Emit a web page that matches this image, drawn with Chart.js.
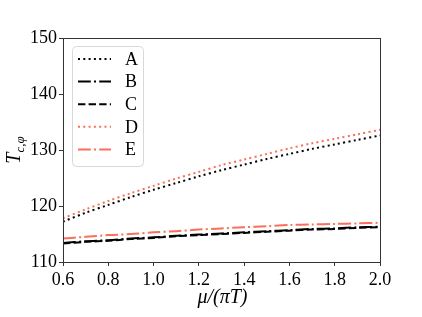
<!DOCTYPE html>
<html>
<head>
<meta charset="utf-8">
<script src="https://cdn.jsdelivr.net/npm/chart.js@4/dist/chart.umd.min.js"></script>
<style>
  html, body { margin: 0; padding: 0; background: #fff; }
  #wrap { width: 422px; height: 317px; }
</style>
</head>
<body>
<div id="wrap"><canvas id="chart" width="422" height="317"></canvas></div>
<script>
// values
const muOverPiT = [0.6, 0.7, 0.8, 0.9, 1.0, 1.1, 1.2, 1.3, 1.4, 1.5, 1.6, 1.7, 1.8, 1.9, 2.0];
const seriesA = [117.2, 118.8, 120.2, 121.6, 122.9, 124.1, 125.3, 126.4, 127.4, 128.4, 129.3, 130.2, 131.0, 131.8, 132.6];
const seriesB = [113.4, 113.7, 113.9, 114.2, 114.4, 114.7, 114.9, 115.1, 115.3, 115.5, 115.7, 115.9, 116.0, 116.2, 116.3];
const seriesC = [113.3, 113.6, 113.8, 114.1, 114.3, 114.6, 114.8, 115.0, 115.2, 115.4, 115.6, 115.8, 115.9, 116.1, 116.2];
const seriesD = [117.8, 119.4, 120.9, 122.3, 123.6, 124.9, 126.1, 127.3, 128.3, 129.3, 130.3, 131.2, 132.0, 132.8, 133.6];
const seriesE = [114.2, 114.5, 114.8, 115.0, 115.3, 115.5, 115.8, 116.0, 116.2, 116.4, 116.6, 116.7, 116.8, 116.9, 117.0];
const seriesNames = ['A', 'B', 'C', 'D', 'E'];
const xTicks = [0.6, 0.8, 1.0, 1.2, 1.4, 1.6, 1.8, 2.0];
const yTicks = [110, 120, 130, 140, 150];

const salmon = '#fa6e5c';
const serif = '"Liberation Serif", "DejaVu Serif", serif';

const dotted = [2, 3.3];
const dashed = [7.4, 3.2];
const dashdot = [12.8, 3.2, 2, 3.2];

function pts(ys) {
  return muOverPiT.map((x, i) => ({ x: x, y: ys[i] }));
}

const styles = [
  { color: '#000', dash: dotted },
  { color: '#000', dash: dashdot },
  { color: '#000', dash: dashed },
  { color: salmon, dash: dotted },
  { color: salmon, dash: dashdot }
];
const allSeries = [seriesA, seriesB, seriesC, seriesD, seriesE];

const datasets = allSeries.map((ys, i) => ({
  label: seriesNames[i],
  data: pts(ys),
  borderColor: styles[i].color,
  borderDash: styles[i].dash,
  borderWidth: 2,
  pointRadius: 0,
  fill: false,
  tension: 0.3
}));

// frame, axis titles and legend inside the plot
const decorations = {
  id: 'decorations',
  afterDraw(chart) {
    const ctx = chart.ctx;
    const a = chart.chartArea;
    ctx.save();
    ctx.strokeStyle = '#333';
    ctx.lineWidth = 1;
    ctx.strokeRect(a.left + 0.5, a.top + 0.5, a.right - a.left, a.bottom - a.top);

    // x title
    ctx.fillStyle = '#000';
    ctx.font = 'italic 20px ' + serif;
    ctx.textAlign = 'center';
    ctx.textBaseline = 'alphabetic';
    ctx.fillText('\u03bc/(\u03c0T)', (a.left + a.right) / 2 + 1, 303);

    // y title T_{c,phi}
    ctx.save();
    ctx.translate(20, (a.top + a.bottom) / 2);
    ctx.rotate(-Math.PI / 2);
    ctx.textAlign = 'left';
    ctx.font = 'italic 20px ' + serif;
    const wT = ctx.measureText('T').width;
    ctx.font = 'italic 13px ' + serif;
    const wS = ctx.measureText('c,\u03c6').width;
    const x0 = -(wT + wS) / 2;
    ctx.font = 'italic 20px ' + serif;
    ctx.fillText('T', x0, 0);
    ctx.font = 'italic 13px ' + serif;
    ctx.fillText('c,\u03c6', x0 + wT, 4);
    ctx.restore();

    // legend box
    const lx = 72, ly = 46, lw = 71, lh = 120;
    ctx.strokeStyle = '#d8d8d8';
    ctx.fillStyle = 'rgba(255,255,255,0.8)';
    ctx.lineWidth = 1;
    ctx.beginPath();
    ctx.roundRect(lx + 0.5, ly + 0.5, lw, lh, 4);
    ctx.fill();
    ctx.stroke();
    ctx.font = '18px ' + serif;
    ctx.textAlign = 'left';
    ctx.textBaseline = 'middle';
    seriesNames.forEach((name, i) => {
      const y = 59 + i * 22.6;
      ctx.strokeStyle = styles[i].color;
      ctx.lineWidth = 2;
      ctx.setLineDash(styles[i].dash);
      ctx.beginPath();
      ctx.moveTo(78, y);
      ctx.lineTo(111, y);
      ctx.stroke();
      ctx.setLineDash([]);
      ctx.fillStyle = '#000';
      ctx.fillText(name, 125, y + 1);
    });
    ctx.restore();
  }
};

new Chart(document.getElementById('chart').getContext('2d'), {
  type: 'line',
  data: { datasets: datasets },
  plugins: [decorations],
  options: {
    responsive: false,
    animation: false,
    layout: { padding: { left: 0, top: 38, right: 42, bottom: 0 } },
    plugins: { legend: { display: false }, tooltip: { enabled: false } },
    scales: {
      x: {
        type: 'linear',
        min: 0.6,
        max: 2.0,
        afterBuildTicks: (scale) => { scale.ticks = xTicks.map(v => ({ value: v })); },
        afterFit: (scale) => { scale.height = 55; },
        grid: { drawOnChartArea: false, drawTicks: true, tickLength: 4, tickColor: '#333' },
        border: { color: '#333', width: 1 },
        ticks: {
          color: '#000',
          padding: 3,
          font: { family: serif, size: 18 },
          maxRotation: 0,
          callback: (v) => Number(v).toFixed(1)
        }
      },
      y: {
        min: 110,
        max: 150,
        afterBuildTicks: (scale) => { scale.ticks = yTicks.map(v => ({ value: v })); },
        afterFit: (scale) => { scale.width = 63; },
        grid: { drawOnChartArea: false, drawTicks: true, tickLength: 4, tickColor: '#333' },
        border: { color: '#333', width: 1 },
        ticks: {
          color: '#000',
          padding: 2,
          font: { family: serif, size: 18 }
        }
      }
    }
  }
});
</script>
</body>
</html>
